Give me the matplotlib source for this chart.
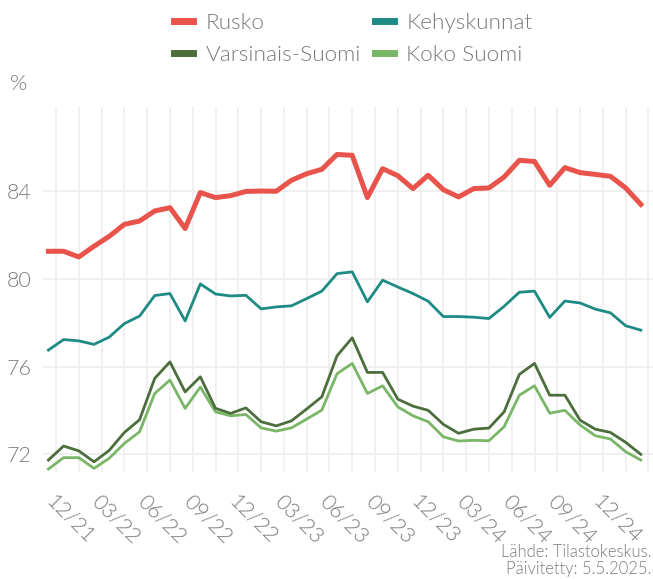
import matplotlib.pyplot as plt
import matplotlib.transforms as mtransforms
import numpy as np
from matplotlib.ticker import FixedLocator

plt.rcParams['font.family'] = ['Lato', 'DejaVu Sans']
plt.rcParams['font.weight'] = 300

# Months 12/21 .. 03/25
months = ["12/21", "01/22", "02/22", "03/22", "04/22", "05/22", "06/22", "07/22", "08/22", "09/22",
          "10/22", "11/22", "12/22", "01/23", "02/23", "03/23", "04/23", "05/23", "06/23", "07/23",
          "08/23", "09/23", "10/23", "11/23", "12/23", "01/24", "02/24", "03/24", "04/24", "05/24",
          "06/24", "07/24", "08/24", "09/24", "10/24", "11/24", "12/24", "01/25", "02/25", "03/25"]

rusko = [81.27, 81.27, 81.01, 81.50, 81.95, 82.50, 82.65, 83.11, 83.26, 82.31,
         83.95, 83.72, 83.81, 84.00, 84.02, 84.01, 84.51, 84.81, 85.01, 85.69,
         85.65, 83.72, 85.04, 84.72, 84.13, 84.74, 84.08, 83.75, 84.13, 84.16,
         84.66, 85.42, 85.37, 84.28, 85.09, 84.86, 84.78, 84.69, 84.16, 83.41]

kehyskunnat = [76.76, 77.24, 77.18, 77.02, 77.35, 77.97, 78.31, 79.25, 79.34, 78.09,
               79.78, 79.32, 79.23, 79.26, 78.64, 78.73, 78.78, 79.11, 79.45, 80.25,
               80.33, 78.96, 79.95, 79.64, 79.34, 78.99, 78.29, 78.29, 78.26, 78.20,
               78.76, 79.40, 79.45, 78.25, 79.00, 78.91, 78.63, 78.46, 77.87, 77.67]

varsinais_suomi = [71.74, 72.38, 72.16, 71.66, 72.18, 73.00, 73.58, 75.47, 76.22, 74.85,
                   75.54, 74.10, 73.87, 74.12, 73.49, 73.30, 73.53, 74.07, 74.63, 76.50,
                   77.32, 75.74, 75.74, 74.52, 74.20, 74.01, 73.37, 72.96, 73.15, 73.20,
                   73.94, 75.65, 76.15, 74.70, 74.70, 73.56, 73.15, 73.00, 72.55, 72.00]

koko_suomi = [71.33, 71.85, 71.85, 71.36, 71.82, 72.50, 73.03, 74.78, 75.39, 74.10,
              75.07, 73.94, 73.76, 73.82, 73.21, 73.06, 73.21, 73.61, 74.02, 75.68,
              76.15, 74.78, 75.13, 74.17, 73.76, 73.49, 72.80, 72.61, 72.64, 72.62,
              73.26, 74.70, 75.13, 73.88, 74.01, 73.34, 72.85, 72.70, 72.12, 71.74]

yticks = [72, 76, 80, 84]

grey = "#7a7a7a"
x = np.arange(len(months))

fig = plt.figure(figsize=(6.53, 5.79), dpi=100)
ax = fig.add_axes([0.066, 0.185, 0.934, 0.63])

ax.plot(x, koko_suomi, color="#79b667", lw=2.0, label="Koko Suomi", zorder=3)
ax.plot(x, varsinais_suomi, color="#4b6e3c", lw=2.0, label="Varsinais-Suomi", zorder=4)
ax.plot(x, kehyskunnat, color="#1e8a84", lw=2.0, label="Kehyskunnat", zorder=5)
ax.plot(x, rusko, color="#e8534b", lw=3.6, label="Rusko", zorder=6)

ax.set_xlim(-0.35, 39.8)
ax.set_ylim(71.2, 87.85)

ax.set_yticks(yticks)
ax.set_yticklabels([str(t) for t in yticks])
ax.set_xticks(x[:37:3])
ax.set_xticklabels(months[:37:3], rotation=-45, ha="left", va="top", rotation_mode="anchor")
ax.xaxis.set_minor_locator(FixedLocator(np.arange(0.5, 40, 1.5)))

ax.grid(which="minor", axis="x", color="#efefef", lw=1.3)
ax.grid(which="major", axis="y", color="#efefef", lw=1.3)
ax.grid(which="major", axis="x", visible=False)
ax.set_axisbelow(True)

ax.tick_params(axis="both", which="both", length=0, colors=grey, labelsize=15.5)
ax.tick_params(axis="x", pad=14)
ax.tick_params(axis="y", pad=8)
shift = mtransforms.ScaledTranslation(6 / 72, 0, fig.dpi_scale_trans)
for lab in ax.get_xticklabels():
    lab.set_transform(lab.get_transform() + shift)
for s in ax.spines.values():
    s.set_visible(False)

fig.text(0.015, 0.845, "%", color=grey, fontsize=16)

h, l = ax.get_legend_handles_labels()
order = ["Rusko", "Varsinais-Suomi", "Kehyskunnat", "Koko Suomi"]
hs = [h[l.index(n)] for n in order]
leg = fig.legend(hs, order, ncol=2, loc="upper center", bbox_to_anchor=(0.541, 1.012),
                 frameon=False, fontsize=16.2, handlelength=0.85, handletextpad=0.55,
                 columnspacing=0.6, labelspacing=0.5, labelcolor=grey)
for ln in leg.get_lines():
    ln.set_linewidth(5)

fig.text(0.997, 0.004, "Lähde: Tilastokeskus.\nPäivitetty: 5.5.2025.", ha="right", va="bottom",
         color=grey, fontsize=12, linespacing=1.05)

fig.savefig("out.png", dpi=100)
